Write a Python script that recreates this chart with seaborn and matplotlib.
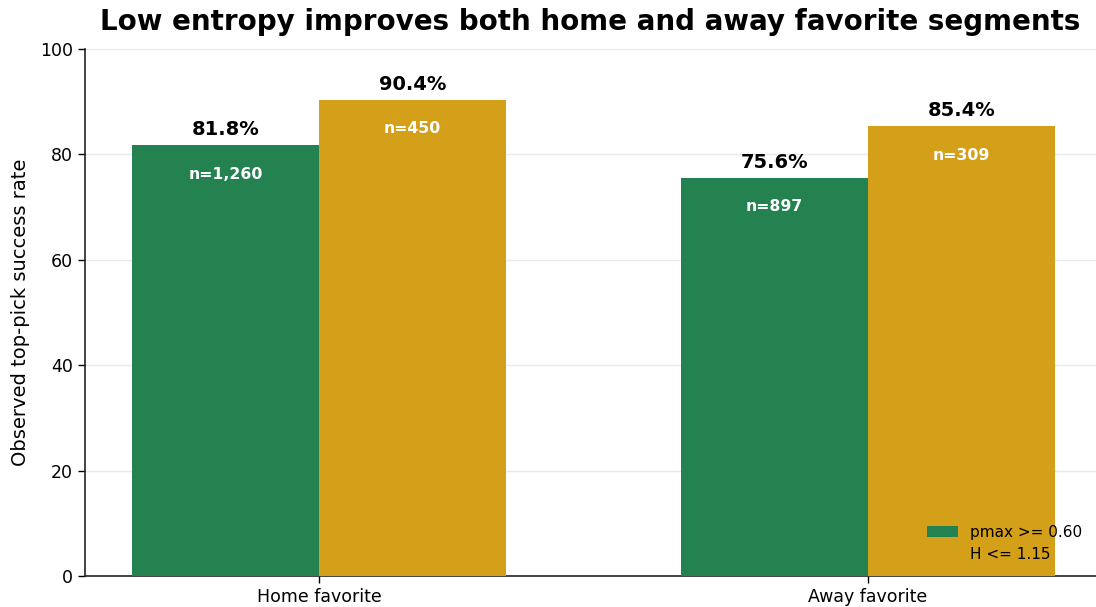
import matplotlib
matplotlib.use("Agg")
import matplotlib.pyplot as plt
import seaborn as sns
import pandas as pd

segments = ["Home favorite", "Home favorite", "Away favorite", "Away favorite"]
filters = ["pmax >= 0.60", "H <= 1.15", "pmax >= 0.60", "H <= 1.15"]
rates = [81.8, 90.4, 75.6, 85.4]
counts = [1260, 450, 897, 309]
palette = {"pmax >= 0.60": "#238250", "H <= 1.15": "#d4a01a"}

df = pd.DataFrame({"segment": segments, "filter": filters, "rate": rates, "n": counts})

sns.set_style("white")
plt.rcParams["font.family"] = ["DejaVu Sans"]
plt.rcParams["text.color"] = "black"
plt.rcParams["axes.labelcolor"] = "black"

fig = plt.figure(figsize=(10.96, 6.07), dpi=100)
ax = fig.add_axes([85/1096, 31/607, 1 - 85/1096, (576-49)/607])

sns.barplot(data=df, x="segment", y="rate", hue="filter", palette=palette,
            width=0.68, ax=ax, errorbar=None, saturation=1, linewidth=0, zorder=3)

ax.set_ylim(0, 100)
ax.set_xlim(-0.426, 1.415)
ax.set_yticks([0, 20, 40, 60, 80, 100])
ax.yaxis.grid(True, color="#e6e9f0", linewidth=1, zorder=0)
ax.set_axisbelow(True)
sns.despine(ax=ax)
for s in ["left", "bottom"]:
    ax.spines[s].set_color("#222222")
    ax.spines[s].set_linewidth(1.2)
ax.tick_params(axis="both", direction="out", length=5, width=1, labelsize=12.5, colors="black",
               left=True, bottom=True)
ax.set_xlabel("")
ax.set_ylabel("Observed top-pick success rate", fontsize=14, labelpad=7)
ax.set_title("Low entropy improves both home and away favorite segments",
             fontsize=20, fontweight="bold", pad=14, color="black")

for container, lvl in zip(ax.containers, ["pmax >= 0.60", "H <= 1.15"]):
    sub = df[df["filter"] == lvl]
    for bar, r, n in zip(container, sub["rate"], sub["n"]):
        cx = bar.get_x() + bar.get_width() / 2
        h = bar.get_height()
        ax.annotate(f"{r:.1f}%", (cx, h), xytext=(0, 4), textcoords="offset points",
                    ha="center", va="bottom", fontsize=14, fontweight="bold", color="black")
        ax.annotate(f"n={n:,}", (cx, h), xytext=(0, -21), textcoords="offset points",
                    ha="center", va="center", fontsize=11.3, fontweight="bold", color="white")

ax.legend(title=None, loc="lower right", frameon=False, fontsize=11)

fig.savefig("out.png", dpi=100)
